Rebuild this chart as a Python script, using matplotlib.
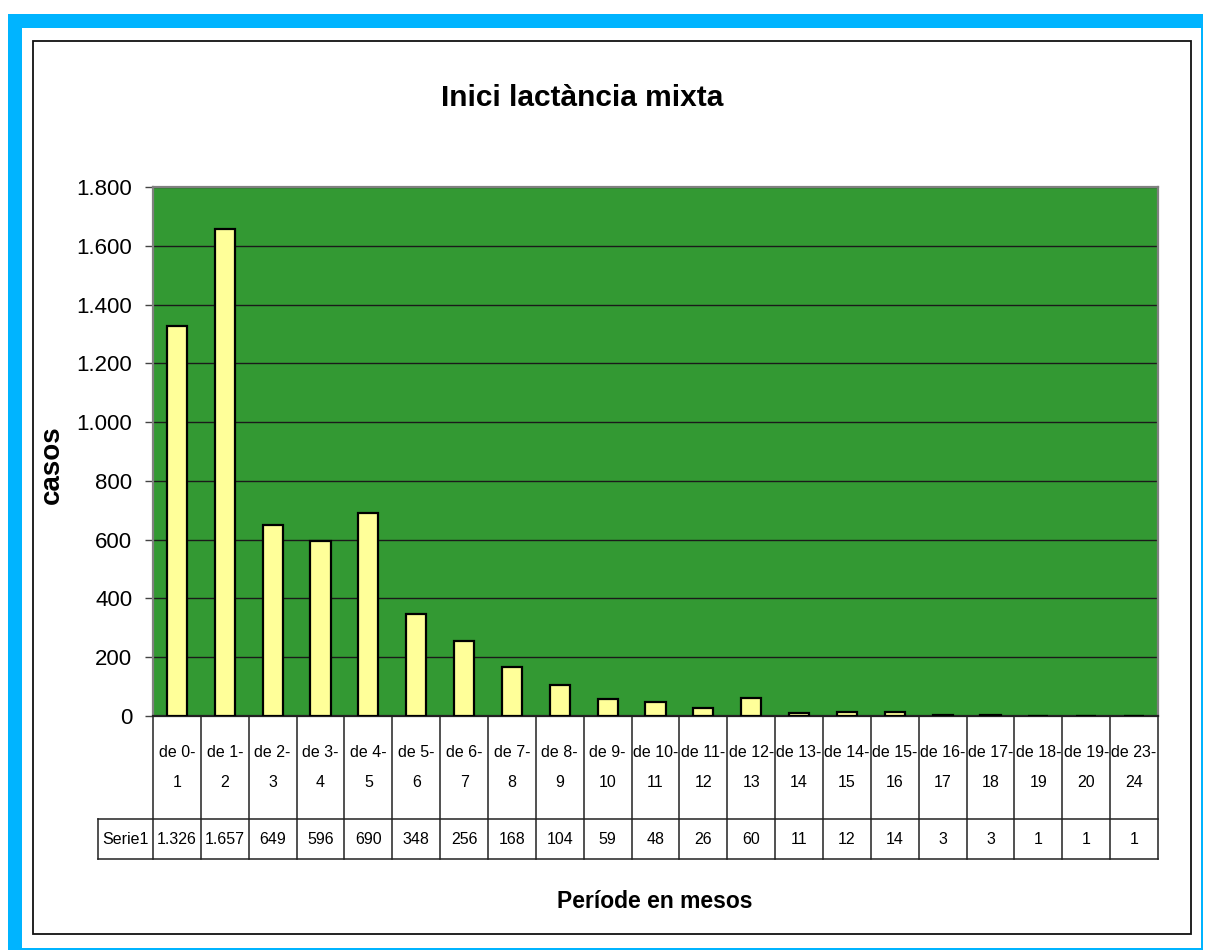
import matplotlib
matplotlib.use("Agg")
import matplotlib.pyplot as plt
import matplotlib.transforms as mtransforms
from matplotlib.patches import Rectangle
from matplotlib.lines import Line2D

# ---- data -------------------------------------------------------------
categories = ["de 0-\n1", "de 1-\n2", "de 2-\n3", "de 3-\n4", "de 4-\n5",
              "de 5-\n6", "de 6-\n7", "de 7-\n8", "de 8-\n9", "de 9-\n10",
              "de 10-\n11", "de 11-\n12", "de 12-\n13", "de 13-\n14",
              "de 14-\n15", "de 15-\n16", "de 16-\n17", "de 17-\n18",
              "de 18-\n19", "de 19-\n20", "de 23-\n24"]
series_name = "Serie1"
values = [1326, 1657, 649, 596, 690, 348, 256, 168, 104, 59, 48, 26, 60,
          11, 12, 14, 3, 3, 1, 1, 1]
y_ticks = [0, 200, 400, 600, 800, 1000, 1200, 1400, 1600, 1800]
title = "Inici lactància mixta"
x_label = "Període en mesos"
y_label = "casos"

# ---- figure -----------------------------------------------------------
W, H = 1205, 951
plt.rcParams['font.family'] = ['Liberation Sans', 'DejaVu Sans']
fig = plt.figure(figsize=(W / 100, H / 100), dpi=100)


def fx(px):
    return px / W


def fy(py):
    return 1 - py / H


def fmt(v):
    return f"{v:,}".replace(",", ".")


# outer cyan frame and the white chart area with its black border
fig.patches.append(Rectangle((fx(8), fy(950)), fx(1203) - fx(8), fy(14) - fy(950),
                             transform=fig.transFigure, facecolor='#00B4FF',
                             edgecolor='none', zorder=-3))
fig.patches.append(Rectangle((fx(22), fy(948)), fx(1201) - fx(22), fy(28) - fy(948),
                             transform=fig.transFigure, facecolor='white',
                             edgecolor='none', zorder=-2))
fig.patches.append(Rectangle((fx(33), fy(934)), fx(1191) - fx(33), fy(41) - fy(934),
                             transform=fig.transFigure, facecolor='white',
                             edgecolor='#111111', lw=1.3, zorder=-1))

# plot area
L, R, T, B = 153, 1158, 187, 716
ax = fig.add_axes([fx(L), fy(B), fx(R) - fx(L), fy(T) - fy(B)])
ax.set_zorder(1)
ax.set_facecolor('#339933')
n = len(values)
xs = list(range(n))
ax.bar(xs, values, width=0.42, color='#FFFF99', edgecolor='black',
       linewidth=1.6, zorder=3)
ax.set_xlim(-0.5, n - 0.5)
ax.set_ylim(0, 1800)
ax.set_yticks(y_ticks)
ax.set_yticklabels([fmt(v) for v in y_ticks])
ax.yaxis.grid(True, color='#1a1a1a', lw=1.0)
ax.set_axisbelow(True)
ax.tick_params(axis='y', direction='out', length=6, width=1, color='#444444',
               pad=9, labelsize=16)
ax.tick_params(axis='x', bottom=False, labelbottom=False)
for side, sp in ax.spines.items():
    sp.set_color('#808080')
    sp.set_linewidth(1.6)
ax.spines['bottom'].set_color('#222222')

# data table under the axis
trans = mtransforms.blended_transform_factory(ax.transData, ax.transAxes)
plot_h = B - T
col_px = (R - L) / n
head_bot = -(819 - B) / plot_h
data_bot = -(859 - B) / plot_h
lab_left = -0.5 - (L - 98) / col_px

line_kw = dict(transform=trans, clip_on=False, color='#222222', lw=1.1)
for i in range(n + 1):
    ax.add_line(Line2D([i - 0.5, i - 0.5], [0, data_bot], **line_kw))
ax.add_line(Line2D([lab_left, n - 0.5], [head_bot, head_bot], **line_kw))
ax.add_line(Line2D([lab_left, n - 0.5], [data_bot, data_bot], **line_kw))
ax.add_line(Line2D([lab_left, lab_left], [head_bot, data_bot], **line_kw))

for i, (cat, v) in enumerate(zip(categories, values)):
    ax.text(i, head_bot / 2, cat, transform=trans, ha='center',
            va='center', fontsize=11.5, linespacing=2.2, clip_on=False)
    ax.text(i, (head_bot + data_bot) / 2, fmt(v), transform=trans,
            ha='center', va='center', fontsize=11.5, clip_on=False)
ax.text((lab_left - 0.5) / 2, (head_bot + data_bot) / 2, series_name,
        transform=trans, ha='center', va='center', fontsize=11.5, clip_on=False)

# titles
fig.text(fx(582), fy(98), title, ha='center', va='center', fontsize=21.5,
         fontweight='bold')
fig.text(fx(655), fy(901), x_label, ha='center', va='center', fontsize=16.5,
         fontweight='bold')
fig.text(fx(52), fy(465), y_label, ha='center', va='center', fontsize=20,
         fontweight='bold', rotation=90)

fig.savefig('out.png', dpi=100)
